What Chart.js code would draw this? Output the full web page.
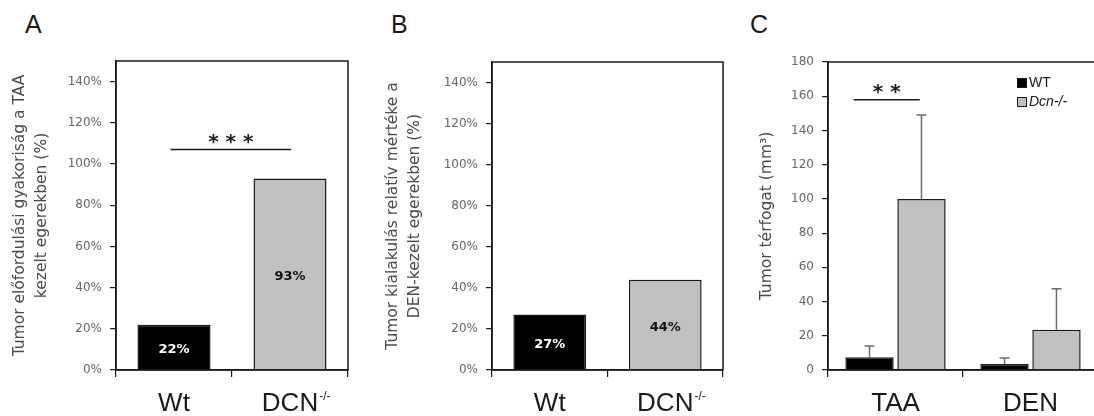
<!DOCTYPE html>
<html>
<head>
<meta charset="utf-8">
<script src="https://cdn.jsdelivr.net/npm/chart.js@4.4.1/dist/chart.umd.min.js"></script>
<style>
  body { margin: 0; background: #fff; width: 1094px; height: 416px; overflow: hidden; position: relative; }
  .panel { position: absolute; top: 0; height: 416px; }
  .letter { position: absolute; top: 12px; font: 25px/25px "Liberation Sans", Arial, sans-serif; color: #1a1a1a; }
</style>
</head>
<body>
<div class="letter" style="left:25px">A</div>
<div class="letter" style="left:391px">B</div>
<div class="letter" style="left:750px">C</div>
<div class="panel" style="left:0;width:370px"><canvas id="chartA" width="370" height="416"></canvas></div>
<div class="panel" style="left:370px;width:360px"><canvas id="chartB" width="360" height="416"></canvas></div>
<div class="panel" style="left:730px;width:380px"><canvas id="chartC" width="380" height="416"></canvas></div>
<script>
// Values
const genotypes = ['Wt', 'DCN'];
const genotypeSup = ['', '-/-'];
const incidenceTAA = [22, 93];   // % of TAA treated mice with tumors
const incidenceDEN = [27, 44];   // % of DEN treated mice with tumors
const percentTicks = [0, 20, 40, 60, 80, 100, 120, 140];

const treatments = ['TAA', 'DEN'];
const volumeWT = [7.5, 3.5];
const volumeWTErr = [6.5, 3.5];
const volumeDcn = [100, 23.5];
const volumeDcnErr = [49, 24];
const volumeTicks = [0, 20, 40, 60, 80, 100, 120, 140, 160, 180];

const BLACK = '#000000';
const GREY = '#c0c0c0';
const EDGE = '#1a1a1a';
const TICK_FONT = { family: 'DejaVu Sans', size: 12 };
const TITLE_FONT = { family: 'DejaVu Sans', size: 15.5, lineHeight: 1.42 };

// Draw a frame around the plot area
const boxPlugin = {
  id: 'box',
  afterDraw(chart) {
    const { ctx, chartArea: a } = chart;
    ctx.save();
    ctx.strokeStyle = EDGE;
    ctx.lineWidth = 1.5;
    ctx.strokeRect(a.left, a.top, a.right - a.left, a.bottom - a.top);
    ctx.restore();
  }
};

// Category labels under the x axis, with an optional superscript
const xLabelPlugin = {
  id: 'xLabels',
  afterDraw(chart, args, opts) {
    const { ctx } = chart;
    const xs = chart.scales.x;
    ctx.save();
    ctx.fillStyle = '#1a1a1a';
    ctx.textBaseline = 'alphabetic';
    chart.data.labels.forEach((lab, i) => {
      const x = xs.getPixelForValue(i);
      ctx.font = '26px "Liberation Sans", Arial, sans-serif';
      ctx.textAlign = 'center';
      ctx.fillText(lab, x, opts.baseline);
      const sup = (opts.sup || [])[i];
      if (sup) {
        const w = ctx.measureText(lab).width;
        ctx.font = '12px "Liberation Sans", Arial, sans-serif';
        ctx.textAlign = 'left';
        ctx.fillText(sup, x + w / 2 + 1, opts.baseline - 11);
      }
    });
    ctx.restore();
  }
};

// Percent written in the middle of each bar
const valueLabelPlugin = {
  id: 'valueLabels',
  afterDatasetsDraw(chart, args, opts) {
    if (!opts.show) return;
    const { ctx } = chart;
    ctx.save();
    ctx.font = 'bold 13px "DejaVu Sans", sans-serif';
    ctx.textAlign = 'center';
    ctx.textBaseline = 'middle';
    chart.data.datasets.forEach((ds, di) => {
      chart.getDatasetMeta(di).data.forEach((bar, i) => {
        const col = Array.isArray(ds.backgroundColor) ? ds.backgroundColor[i] : ds.backgroundColor;
        ctx.fillStyle = col === BLACK ? '#ffffff' : '#111111';
        ctx.fillText(ds.data[i] + '%', bar.x, (bar.y + bar.base) / 2 + 3);
      });
    });
    ctx.restore();
  }
};

// One-sided error bars
const errorBarPlugin = {
  id: 'errorBars',
  afterDatasetsDraw(chart) {
    const { ctx } = chart;
    const ys = chart.scales.y;
    ctx.save();
    ctx.strokeStyle = '#6e6e6e';
    ctx.lineWidth = 1.5;
    chart.data.datasets.forEach((ds, di) => {
      if (!ds.errors) return;
      chart.getDatasetMeta(di).data.forEach((bar, i) => {
        const yTop = ys.getPixelForValue(ds.data[i] + ds.errors[i]);
        ctx.beginPath();
        ctx.moveTo(bar.x, bar.y);
        ctx.lineTo(bar.x, yTop);
        ctx.moveTo(bar.x - 5, yTop);
        ctx.lineTo(bar.x + 5, yTop);
        ctx.stroke();
      });
    });
    ctx.restore();
  }
};

// Significance line with stars
const sigPlugin = {
  id: 'sig',
  afterDraw(chart, args, opts) {
    if (!opts.text) return;
    const { ctx } = chart;
    const xs = chart.scales.x, ys = chart.scales.y;
    const x1 = xs.getPixelForValue(opts.from), x2 = xs.getPixelForValue(opts.to);
    const y = ys.getPixelForValue(opts.value);
    ctx.save();
    ctx.strokeStyle = '#1a1a1a';
    ctx.lineWidth = 1.5;
    ctx.beginPath();
    ctx.moveTo(x1, y);
    ctx.lineTo(x2, y);
    ctx.stroke();
    ctx.fillStyle = '#1a1a1a';
    ctx.font = 'bold 20px "DejaVu Sans", sans-serif';
    ctx.textAlign = 'center';
    ctx.textBaseline = 'alphabetic';
    ctx.fillText(opts.text, (x1 + x2) / 2, y - 2);
    ctx.restore();
  }
};

// Small legend inside the plot, top right
const cornerLegendPlugin = {
  id: 'cornerLegend',
  afterDraw(chart, args, opts) {
    if (!opts.show) return;
    const { ctx, chartArea: a } = chart;
    ctx.save();
    ctx.textBaseline = 'middle';
    ctx.textAlign = 'left';
    chart.data.datasets.forEach((ds, i) => {
      const x = a.right - 81, y = a.top + 16 + i * 19;
      ctx.fillStyle = ds.backgroundColor;
      ctx.fillRect(x, y, 10, 10);
      ctx.strokeStyle = EDGE;
      ctx.lineWidth = 1;
      ctx.strokeRect(x + 0.5, y + 0.5, 9, 9);
      ctx.fillStyle = '#1a1a1a';
      ctx.font = (i === 1 ? 'italic ' : '') + '14px "Liberation Sans", Arial, sans-serif';
      ctx.fillText(ds.label, x + 12, y + 5);
    });
    ctx.restore();
  }
};

function yScale(max, ticks, fmt, title, width, titlePad) {
  return {
    min: 0,
    max: max,
    afterBuildTicks: s => { s.ticks = ticks.map(v => ({ value: v })); },
    afterFit: s => { s.width = width; },
    grid: { drawOnChartArea: false, drawTicks: true, tickLength: 6, color: EDGE, lineWidth: 1.2 },
    border: { color: EDGE, width: 1.5 },
    ticks: { color: '#666666', font: TICK_FONT, padding: 8, callback: v => fmt(v) },
    title: { display: true, text: title, color: '#4a4a4a', font: TITLE_FONT, padding: { top: titlePad, bottom: 0 } }
  };
}

function xScale() {
  return {
    afterFit: s => { s.height = 46; },
    grid: { drawOnChartArea: false, drawTicks: true, tickLength: 7, color: EDGE, lineWidth: 1.2, offset: true },
    border: { color: EDGE, width: 1.5 },
    ticks: { display: false }
  };
}

function incidenceChart(id, values, title, pad, sig) {
  return new Chart(document.getElementById(id), {
    type: 'bar',
    data: {
      labels: genotypes,
      datasets: [{
        data: values,
        backgroundColor: [BLACK, GREY],
        borderColor: EDGE,
        borderWidth: 1.5,
        categoryPercentage: 1,
        barPercentage: 0.63
      }]
    },
    options: {
      responsive: false,
      animation: false,
      layout: { padding: pad },
      scales: {
        x: xScale(),
        y: yScale(150, percentTicks, v => v + '%', title, pad.yWidth, pad.titlePad)
      },
      plugins: {
        legend: { display: false },
        tooltip: { enabled: false },
        xLabels: { baseline: 411, sup: genotypeSup },
        valueLabels: { show: true },
        sig: sig || {}
      }
    },
    plugins: [boxPlugin, xLabelPlugin, valueLabelPlugin, sigPlugin]
  });
}

incidenceChart('chartA', incidenceTAA,
  ['Tumor előfordulási gyakoriság a TAA', 'kezelt egerekben (%)'],
  { top: 61, right: 22, bottom: 0, left: 0, yWidth: 116, titlePad: 9 },
  { from: -0.03, to: 1.01, value: 107, text: '* * *' });

incidenceChart('chartB', incidenceDEN,
  ['Tumor kialakulás relatív mértéke a', 'DEN-kezelt egerekben (%)'],
  { top: 62, right: 7, bottom: 0, left: 0, yWidth: 122, titlePad: 12 });

new Chart(document.getElementById('chartC'), {
  type: 'bar',
  data: {
    labels: treatments,
    datasets: [
      { label: 'WT', data: volumeWT, errors: volumeWTErr, backgroundColor: BLACK, borderColor: EDGE, borderWidth: 1.5 },
      { label: 'Dcn-/-', data: volumeDcn, errors: volumeDcnErr, backgroundColor: GREY, borderColor: EDGE, borderWidth: 1.5 }
    ]
  },
  options: {
    responsive: false,
    animation: false,
    datasets: { bar: { categoryPercentage: 0.77, barPercentage: 0.93 } },
    layout: { padding: { top: 62, right: 12, bottom: 0, left: 0 } },
    scales: {
      x: xScale(),
      y: yScale(180, volumeTicks, v => String(v), 'Tumor térfogat (mm³)', 98, 26)
    },
    plugins: {
      legend: { display: false },
      tooltip: { enabled: false },
      xLabels: { baseline: 411 },
      cornerLegend: { show: true },
      sig: { from: -0.31, to: 0.18, value: 158, text: '* *' }
    }
  },
  plugins: [boxPlugin, xLabelPlugin, errorBarPlugin, sigPlugin, cornerLegendPlugin]
});
</script>
</body>
</html>
